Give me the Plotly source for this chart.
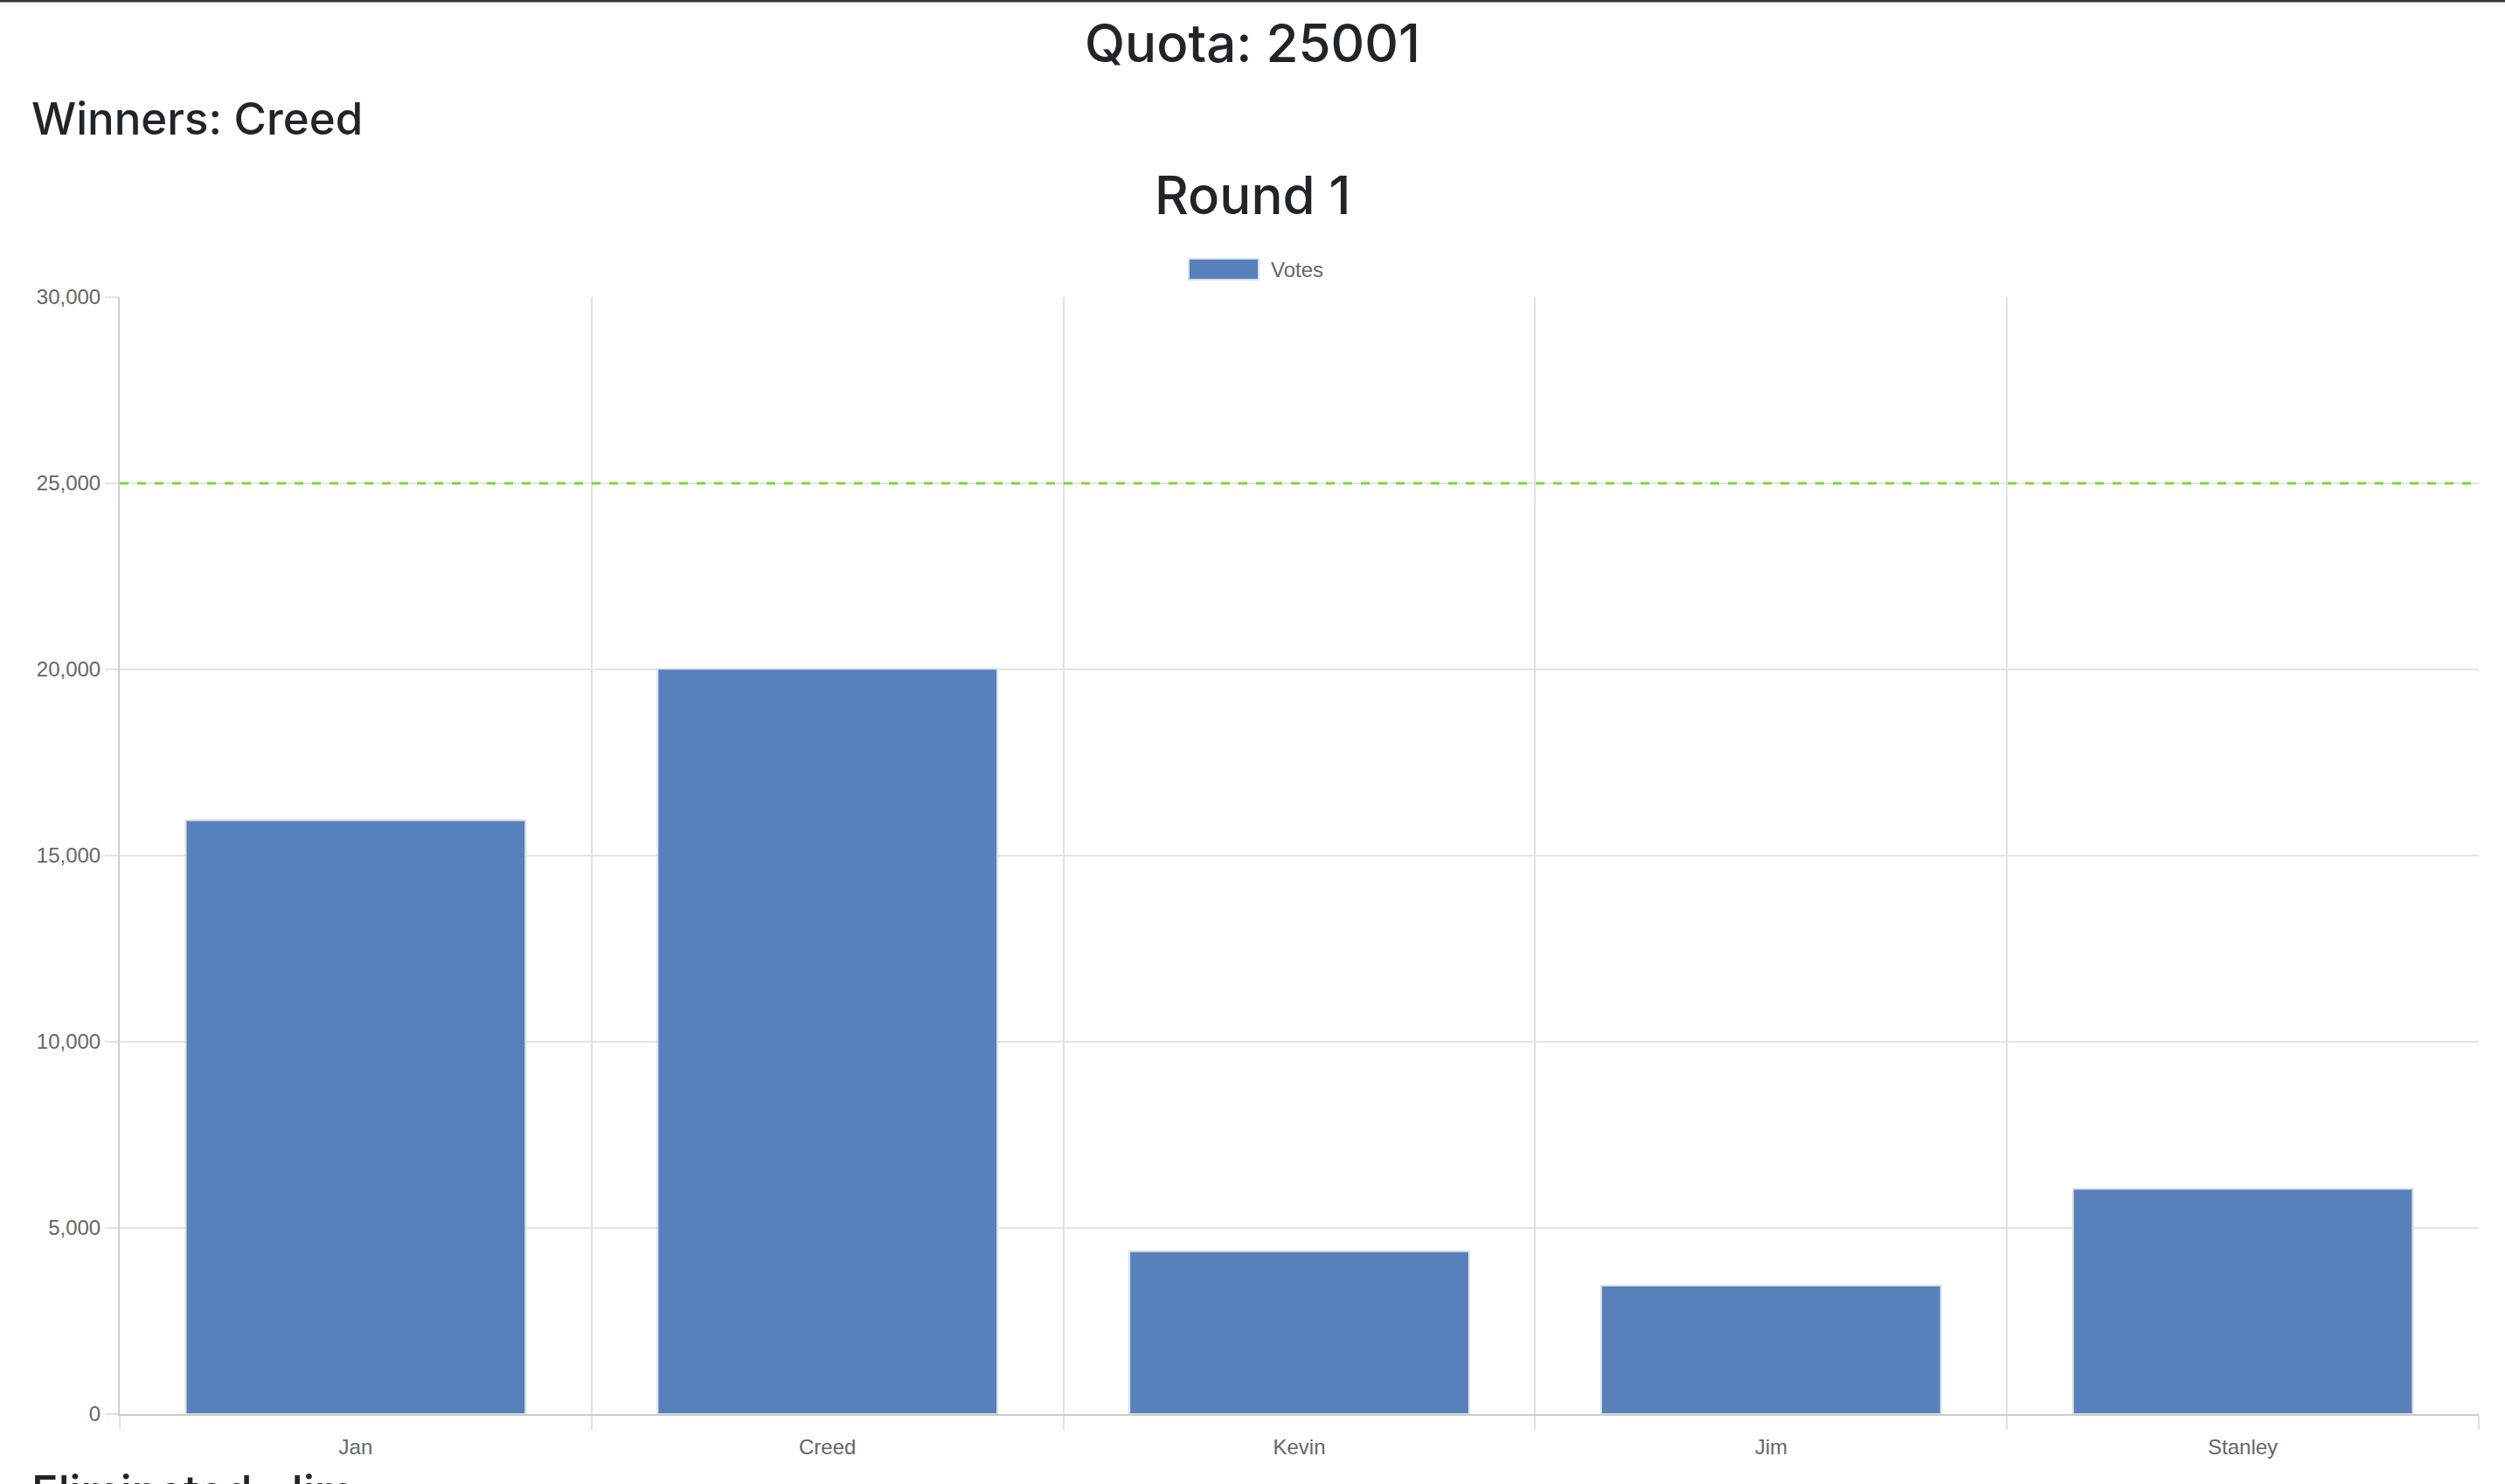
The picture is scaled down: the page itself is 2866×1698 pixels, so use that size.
import plotly.graph_objects as go

# ---- data ----
candidates = ["Jan", "Creed", "Kevin", "Jim", "Stanley"]
votes = [15950, 20020, 4370, 3450, 6050]
quota = 25001
round_label = "Round 1"
winners = ["Creed"]
eliminated = ["Jim"]
series_name = "Votes"
y_ticks = [0, 5000, 10000, 15000, 20000, 25000, 30000]

W, H = 2866, 1698
ML, MR, MT, MB = 137, 30, 340, 80
PW, PH = W - ML - MR, H - MT - MB


def px(x):
    return (x - ML) / PW


def py(y):
    return (H - MB - y) / PH


BAR = "#5781bb"
HEAD = "#212529"
TICK = "#666666"
GRID = "#e4e4e4"
HFONT = "Inter, 'Noto Sans', sans-serif"
TFONT = "'Liberation Sans', Arial, sans-serif"

fig = go.Figure()
fig.add_trace(go.Bar(
    x=candidates, y=votes, name=series_name,
    marker=dict(color=BAR, line=dict(color="#dcdfe4", width=2)),
    showlegend=False,
))

fig.update_layout(
    width=W, height=H,
    margin=dict(l=ML, r=MR, t=MT, b=MB, pad=0),
    paper_bgcolor="white", plot_bgcolor="white",
    bargap=0.28,
    xaxis=dict(
        type="category", tickson="boundaries",
        showgrid=True, gridcolor="#e2e2e2", gridwidth=1.5,
        ticks="outside", ticklen=16, tickcolor="#e2e2e2", tickwidth=1.5,
        ticklabelstandoff=15,
        showline=True, linecolor="#cccccc", linewidth=2,
        tickfont=dict(family=TFONT, size=24, color=TICK),
        zeroline=False,
    ),
    yaxis=dict(
        range=[0, 30000], tickvals=y_ticks, tickformat=",",
        showgrid=True, gridcolor=GRID, gridwidth=2,
        ticks="outside", ticklen=15, tickcolor=GRID, tickwidth=2,
        showline=True, linecolor="#cfcfcf", linewidth=2,
        tickfont=dict(family=TFONT, size=24, color=TICK),
        zeroline=False,
    ),
)

# quota line
fig.add_shape(type="line", xref="paper", x0=0, x1=1, yref="y", y0=quota, y1=quota,
              line=dict(color="#86d335", width=3, dash="10px,10px"))

# top page border
fig.add_shape(type="line", xref="paper", x0=-ML / PW, x1=1 + MR / PW,
              yref="paper", y0=py(1), y1=py(1),
              line=dict(color="#333333", width=3))

# legend swatch and label
fig.add_shape(type="rect", xref="paper", yref="paper",
              x0=px(1360), x1=px(1440), y0=py(320), y1=py(296),
              fillcolor=BAR, line=dict(color="#dcdfe4", width=2))
fig.add_annotation(text=series_name, xref="paper", yref="paper",
                   x=px(1452), y=py(308), xanchor="left", yanchor="middle",
                   showarrow=False, font=dict(family=TFONT, size=24, color=TICK))

# headings
fig.add_annotation(text=f"Quota: {quota}", xref="paper", yref="paper",
                   x=px(W / 2), y=py(49), xanchor="center", yanchor="middle",
                   showarrow=False, font=dict(family=HFONT, size=60, color=HEAD, weight=500))
fig.add_annotation(text="Winners: " + ", ".join(winners), xref="paper", yref="paper",
                   x=px(34), y=py(135), xanchor="left", yanchor="middle",
                   showarrow=False, font=dict(family=HFONT, size=51, color=HEAD, weight=500))
fig.add_annotation(text=round_label, xref="paper", yref="paper",
                   x=px(W / 2), y=py(223), xanchor="center", yanchor="middle",
                   showarrow=False, font=dict(family=HFONT, size=60, color=HEAD, weight=500))
fig.add_annotation(text="Eliminated: " + ", ".join(eliminated), xref="paper", yref="paper",
                   x=px(34), y=py(1706), xanchor="left", yanchor="middle",
                   showarrow=False, font=dict(family=HFONT, size=51, color=HEAD, weight=500))

fig.write_html("out.html", config={"displayModeBar": False},
               post_script="document.body.style.margin='0';document.body.style.overflow='hidden';")
